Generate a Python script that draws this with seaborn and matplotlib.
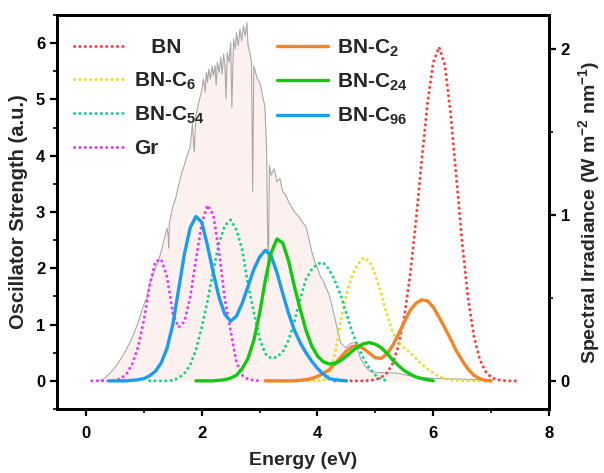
import numpy as np
import matplotlib
matplotlib.use("Agg")
import matplotlib.pyplot as plt
from matplotlib.ticker import MultipleLocator
import seaborn as sns

# ---------------- data ----------------
bn_x = np.round(np.arange(4.3, 7.51, 0.1), 2)
bn_y = [0, 0, 0, 0, 0, 0, 0.01, 0.02, 0.06, 0.14, 0.31, 0.63, 1.14, 1.88, 2.84,
        3.92, 4.93, 5.66, 5.93, 5.61, 4.75, 3.60, 2.44, 1.48, 0.80, 0.39, 0.17,
        0.065, 0.02, 0.007, 0, 0, 0]

c6_x = np.round(np.arange(3.1, 7.01, 0.1), 2)
c6_y = [0, 0, 0, 0, 0, 0, 0, 0, 0, 0,
        0.01, 0.10, 0.47, 1.05, 1.54, 1.88, 2.08, 2.19, 2.12, 1.88,
        1.55, 1.18, 0.86, 0.68, 0.58, 0.50, 0.40, 0.30, 0.21, 0.14,
        0.08, 0.04, 0.02, 0.01, 0, 0, 0, 0, 0, 0]

c54_x = np.round(np.arange(1.1, 5.21, 0.1), 2)
c54_y = [0, 0, 0, 0, 0.01, 0.05, 0.13, 0.28, 0.55, 0.95,
         1.42, 1.96, 2.45, 2.76, 2.86, 2.68, 2.33, 1.70, 1.22, 0.75,
         0.48, 0.40, 0.42, 0.52, 0.72, 1.05, 1.45, 1.80, 1.98, 2.08,
         2.10, 1.98, 1.78, 1.52, 1.19, 0.87, 0.61, 0.39, 0.22, 0.10,
         0.03, 0]

gr_x = np.round(np.arange(0.1, 3.01, 0.1), 2)
gr_y = [0, 0, 0, 0, 0.01, 0.04, 0.12, 0.30, 0.60, 1.08,
        1.70, 2.12, 2.16, 1.85, 1.20, 0.95, 1.05, 1.48, 2.15, 2.80,
        3.12, 2.95, 2.28, 1.45, 0.88, 0.33, 0.10, 0.03, 0.01, 0]

c2_x = np.round(np.arange(3.1, 7.01, 0.1), 2)
c2_y = [0, 0, 0, 0, 0, 0, 0.01, 0.02, 0.04, 0.08,
        0.13, 0.20, 0.30, 0.42, 0.53, 0.61, 0.62, 0.57, 0.49, 0.41,
        0.40, 0.48, 0.63, 0.83, 1.05, 1.25, 1.38, 1.44, 1.42, 1.31,
        1.13, 0.94, 0.74, 0.53, 0.36, 0.21, 0.10, 0.04, 0.01, 0]

c24_x = np.round(np.arange(1.9, 6.01, 0.1), 2)
c24_y = [0, 0,
         0, 0, 0.01, 0.02, 0.05, 0.10, 0.22, 0.40, 0.72, 1.20,
         1.80, 2.28, 2.52, 2.45, 2.13, 1.68, 1.28, 0.90, 0.62, 0.44,
         0.34, 0.30, 0.31, 0.36, 0.44, 0.53, 0.61, 0.66, 0.68, 0.65,
         0.59, 0.49, 0.37, 0.27, 0.18, 0.12, 0.07, 0.04, 0.02, 0]

c96_x = np.round(np.arange(0.4, 4.51, 0.1), 2)
c96_y = [0, 0, 0, 0, 0.01, 0.02, 0.04,
         0.09, 0.17, 0.32, 0.58, 1.00, 1.62, 2.25, 2.72, 2.92, 2.82,
         2.40, 1.92, 1.48, 1.18, 1.06, 1.15, 1.38, 1.68, 1.98, 2.20,
         2.32, 2.22, 1.92, 1.55, 1.20, 0.90, 0.68, 0.50, 0.35, 0.22,
         0.12, 0.04, 0.02, 0.01, 0]

# AM1.5 solar spectrum (right axis)
sun_x = [0.20, 0.30, 0.40, 0.50, 0.60, 0.70, 0.80, 0.90, 1.00, 1.05, 1.10, 1.15,
         1.20, 1.25, 1.30, 1.35, 1.40, 1.42, 1.43, 1.44, 1.50, 1.55, 1.60, 1.65,
         1.70, 1.75, 1.80, 1.84, 1.87, 1.90, 1.95, 2.00, 2.03, 2.06, 2.08, 2.10,
         2.12, 2.15, 2.18, 2.20, 2.23, 2.25, 2.27, 2.30, 2.33, 2.35, 2.38, 2.40,
         2.42, 2.44, 2.47, 2.50, 2.52, 2.55, 2.58, 2.60, 2.63, 2.66, 2.69, 2.72,
         2.75, 2.78, 2.80, 2.83, 2.86, 2.88, 2.90, 2.93, 2.96, 3.00, 3.03, 3.06,
         3.09, 3.12, 3.15, 3.17, 3.20, 3.25, 3.30, 3.35, 3.40, 3.45, 3.50, 3.55,
         3.60, 3.65, 3.70, 3.75, 3.80, 3.85, 3.90, 3.95, 4.00, 4.05, 4.10, 4.15,
         4.20, 4.25, 4.30, 4.35, 4.40, 4.45, 4.50, 4.55, 4.60, 4.65, 4.70, 4.75,
         4.80, 4.90, 5.00, 5.20, 5.40, 5.60, 5.80, 6.00, 6.50, 7.00]
sun_y = [0.0, 0.01, 0.04, 0.08, 0.13, 0.19, 0.26, 0.35, 0.46, 0.50, 0.58, 0.63,
         0.68, 0.72, 0.78, 0.85, 0.92, 0.88, 0.80, 0.95, 1.05, 1.10, 1.18, 1.25,
         1.30, 1.36, 1.41, 1.55, 1.38, 1.60, 1.68, 1.75, 1.82, 1.74, 1.86, 1.80,
         1.88, 1.82, 1.90, 1.84, 1.90, 1.78, 1.92, 1.86, 1.95, 1.85, 1.97, 1.90,
         1.70, 1.98, 1.92, 2.04, 1.65, 2.06, 2.00, 2.10, 2.02, 2.12, 2.05, 2.14,
         2.08, 2.16, 2.02, 1.98, 1.92, 1.14, 1.90, 1.86, 1.82, 1.80, 1.76, 1.70,
         1.66, 1.40, 0.60, 1.30, 1.24, 1.28, 1.20, 1.22, 1.14, 1.12, 1.08, 1.05,
         1.02, 1.00, 0.98, 0.95, 0.93, 0.86, 0.78, 0.72, 0.68, 0.63, 0.60, 0.56,
         0.52, 0.45, 0.38, 0.30, 0.23, 0.21, 0.20, 0.22, 0.23, 0.23, 0.18, 0.13,
         0.10, 0.06, 0.05, 0.05, 0.045, 0.03, 0.02, 0.015, 0.01, 0.005]

labels = ["   BN", "BN-C$_6$", "BN-C$_{54}$", "Gr", "BN-C$_2$", "BN-C$_{24}$", "BN-C$_{96}$"]
colors = ["#FF3B3B", "#E6DE2A", "#10D48C", "#E23CF5", "#F58426", "#12C812", "#1C9CEF"]

# ---------------- style ----------------
sns.set_style("ticks")
plt.rcParams["font.family"] = ["Liberation Sans", "DejaVu Sans"]
plt.rcParams["font.weight"] = "bold"
plt.rcParams["axes.labelweight"] = "bold"
plt.rcParams["mathtext.fontset"] = "custom"
plt.rcParams["mathtext.bf"] = "Liberation Sans:bold"
plt.rcParams["mathtext.rm"] = "Liberation Sans:bold"
plt.rcParams["mathtext.default"] = "bf"

fig = plt.figure(figsize=(6.04, 4.73), dpi=100)
ax = fig.add_axes([0.0944, 0.1353, 0.8146, 0.833])
ax2 = ax.twinx()
ax.set_zorder(ax2.get_zorder() + 1)
ax.patch.set_visible(False)

# solar spectrum
ax2.fill_between(sun_x, sun_y, 0, color="#FDF1EF", linewidth=0)
sns.lineplot(x=sun_x, y=sun_y, ax=ax2, color="#A8A8A8", linewidth=0.8, sort=False)

dot = (0, (0.01, 1.75))
series = [
    (bn_x, bn_y, dot), (c6_x, c6_y, dot), (c54_x, c54_y, dot), (gr_x, gr_y, dot),
    (c2_x, c2_y, "-"), (c24_x, c24_y, "-"), (c96_x, c96_y, "-"),
]
draw_order = [0, 1, 2, 3, 4, 6, 5]
lines = {}
for i in draw_order:
    x, y, ls = series[i]
    if ls == dot:
        sns.lineplot(x=x, y=y, ax=ax, color=colors[i], linestyle=ls, linewidth=2.2,
                     dash_capstyle="round", label=labels[i], sort=False)
    else:
        sns.lineplot(x=x, y=y, ax=ax, color=colors[i], linestyle=ls, linewidth=2.4,
                     label=labels[i], sort=False)
    lines[i] = ax.get_lines()[-1]
handles = [lines[i] for i in range(7)]

ax.set_xlim(-0.5, 8)
ax.set_ylim(-0.5, 6.5)
ax2.set_ylim(-0.17, 2.206)

ax.set_xticks([0, 2, 4, 6, 8])
ax.set_yticks([0, 1, 2, 3, 4, 5, 6])
ax2.set_yticks([0, 1, 2])
ax.xaxis.set_minor_locator(MultipleLocator(1))
ax.yaxis.set_minor_locator(MultipleLocator(0.5))
ax2.yaxis.set_minor_locator(MultipleLocator(0.5))

for a in (ax, ax2):
    for s in a.spines.values():
        s.set_linewidth(2.0)
        s.set_color("black")
    a.tick_params(which="major", direction="out", length=5, width=1.6, labelsize=12,
                  colors="black")
    a.tick_params(which="minor", direction="out", length=3, width=1.4)
ax.tick_params(top=False, right=False, which="both")
ax.tick_params(axis="x", which="major", pad=7)
ax2.tick_params(left=False, top=False, which="both")
for lab in ax.get_xticklabels() + ax.get_yticklabels() + ax2.get_yticklabels():
    lab.set_fontweight("bold")

ax.set_xlabel("Energy (eV)", fontsize=14, labelpad=8)
ax.set_ylabel("Oscillator Strength (a.u.)", fontsize=14.5, labelpad=6)
ax2.set_ylabel("Spectral Irradiance (W m$^{-2}$ nm$^{-1}$)", fontsize=14,
               rotation=90, labelpad=4)

ax.legend(handles=handles, labels=labels, ncol=2, frameon=False, loc="upper left",
          bbox_to_anchor=(0.034, 0.943), fontsize=15, handlelength=2.45,
          handletextpad=0.45, columnspacing=3.45, labelspacing=0.62,
          borderpad=0, borderaxespad=0)

fig.savefig("out.png", dpi=100)
